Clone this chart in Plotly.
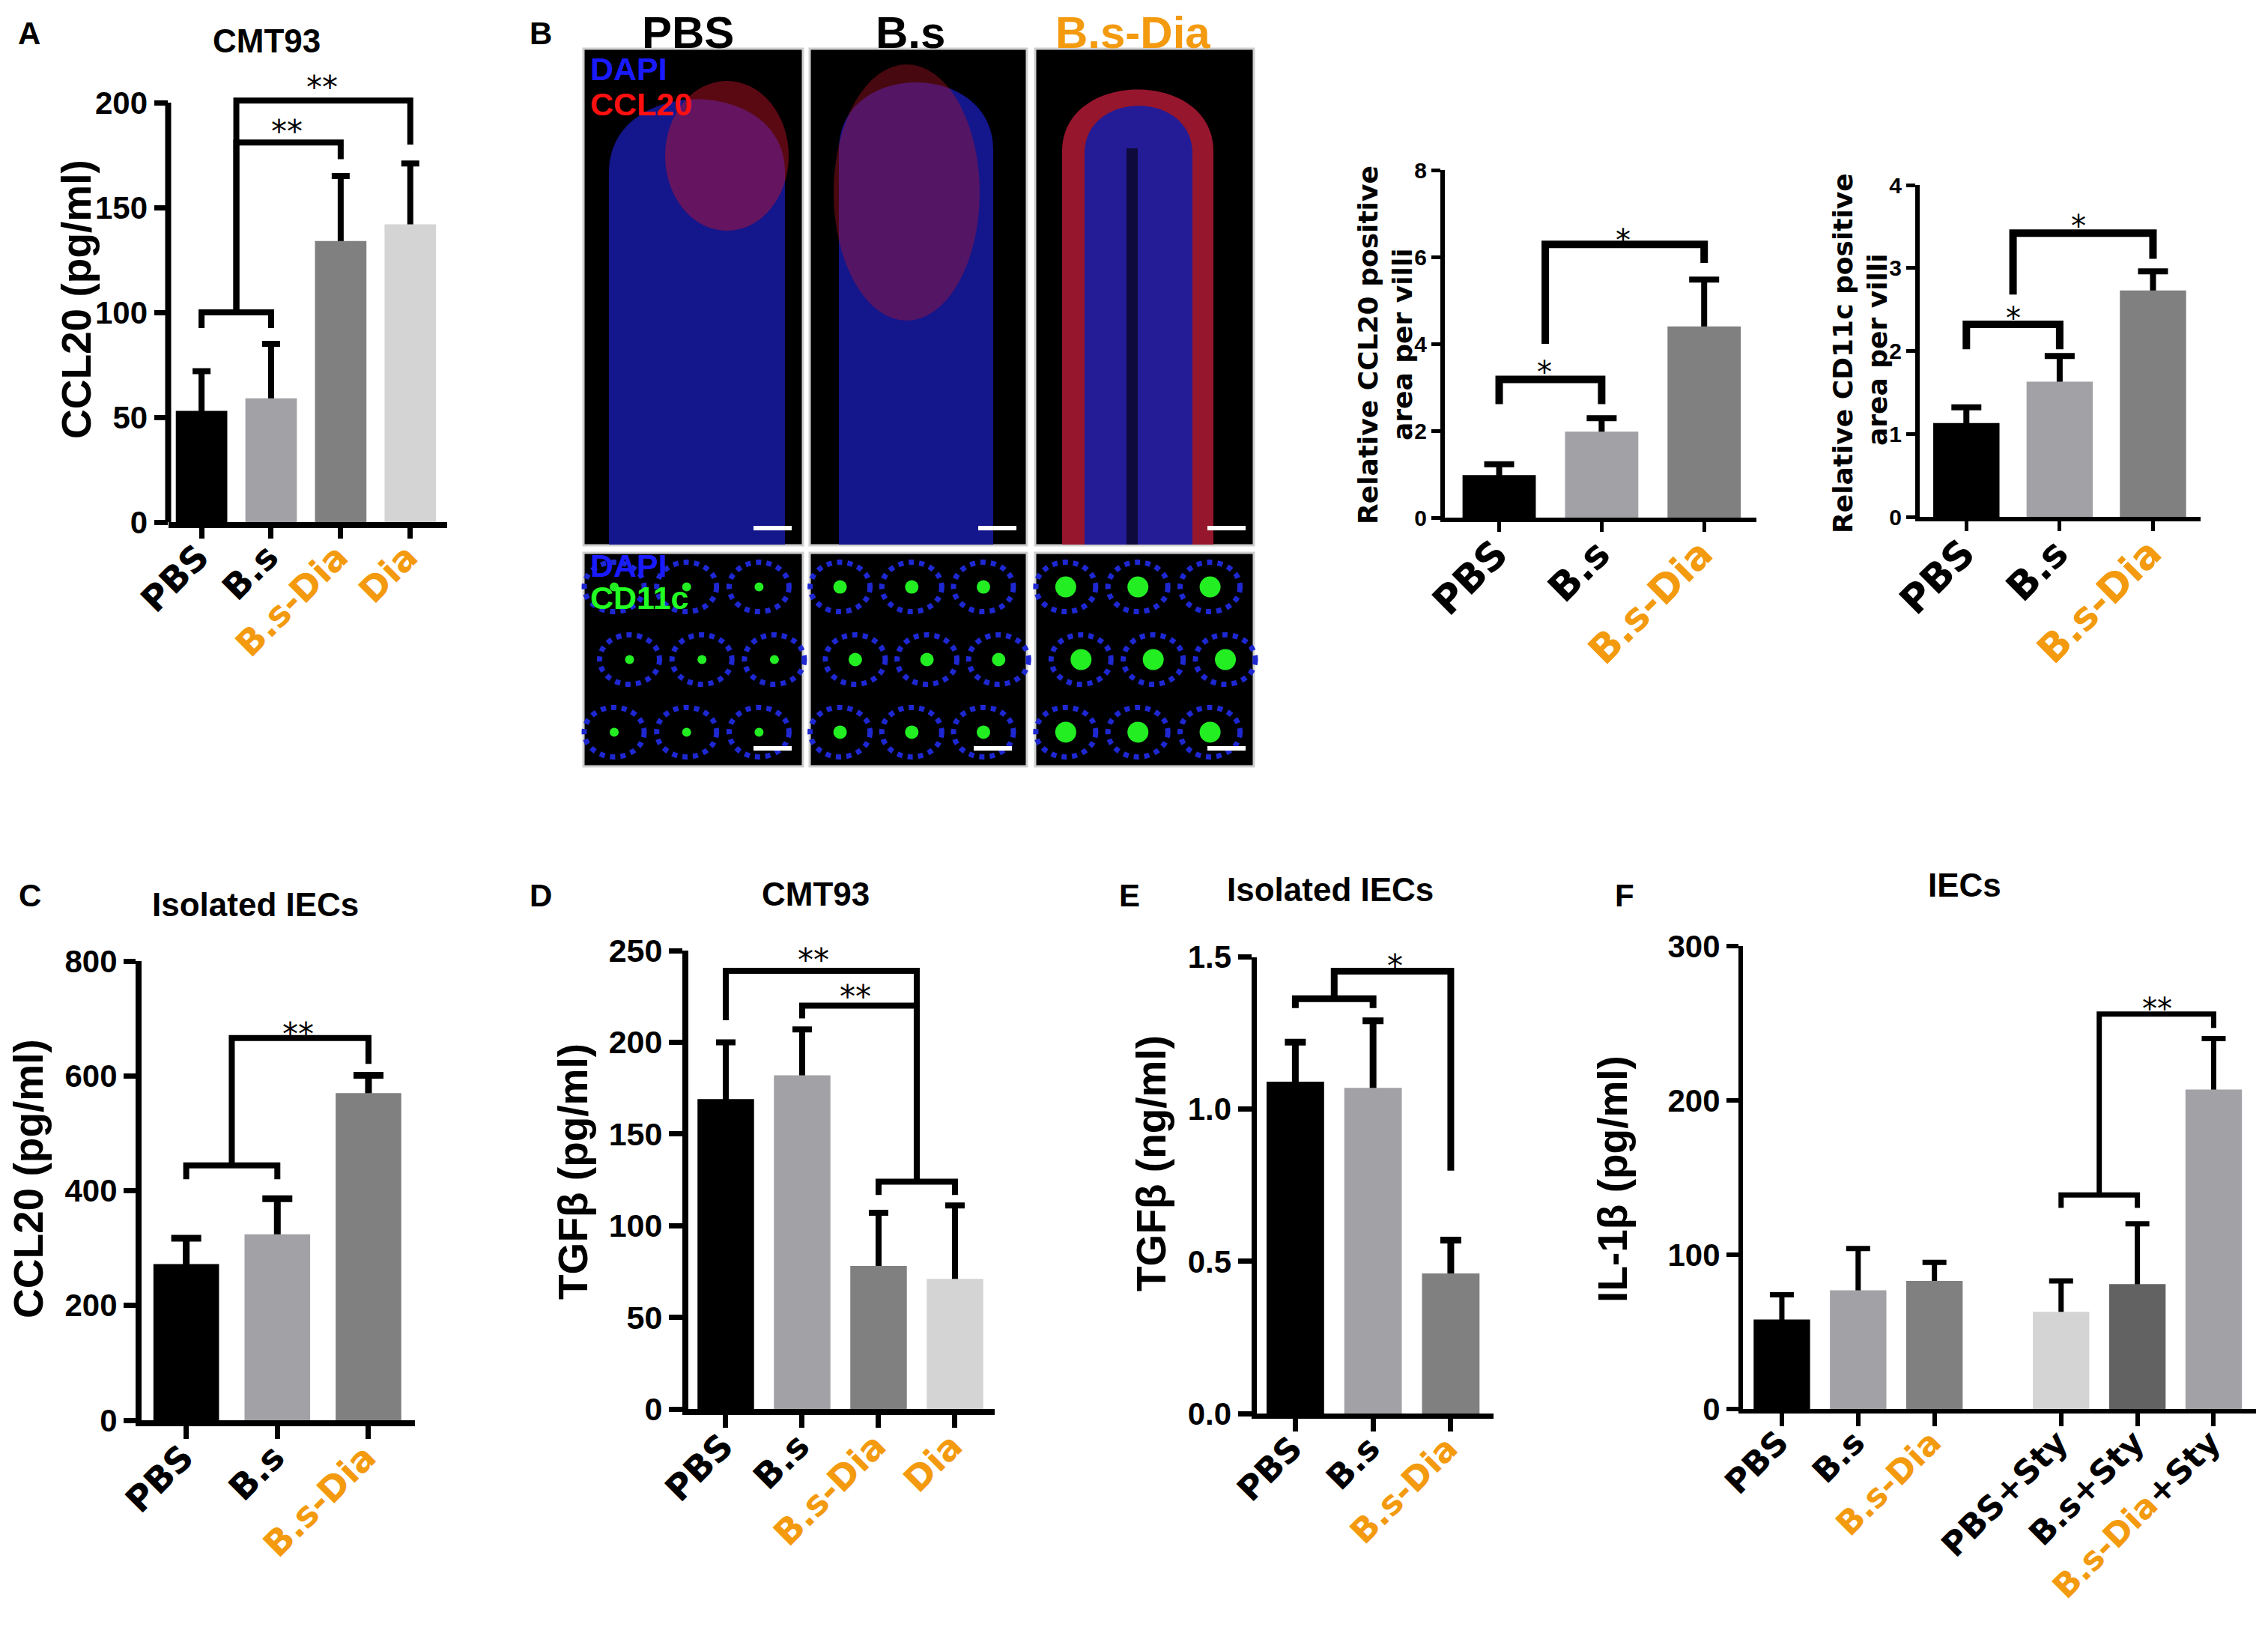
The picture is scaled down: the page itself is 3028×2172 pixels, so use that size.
import plotly.graph_objects as go

W, H = 3028, 2172
ORANGE = "#F39A0F"
BOLD = "Liberation Sans"
HEAVY = "DejaVu Sans"

# ---------------- values ----------------
# A: CCL20 secreted by CMT93 cells
a_groups = ["PBS", "B.s", "B.s-Dia", "Dia"]
a_mean = [53, 59, 134, 142]
a_sem = [19, 26, 31, 29]
# brackets: (left, right, height, left leg end, right leg end)
a_brackets = [(0, 1, 100, 92.5, 92.5), (0.5, 2, 181, 100, 173), (0.5, 3, 201, 100, 180)]
a_stars = [(1.23, 190, "**"), (1.73, 211, "**")]

# B: relative positive area per villus
b_groups = ["PBS", "B.s", "B.s-Dia"]
b1_mean = [0.98, 1.98, 4.40]
b1_sem = [0.25, 0.31, 1.08]
b1_brackets = [(0, 1, 3.18, 2.61, 2.61), (0.45, 2, 6.29, 4.0, 5.86)]
b1_stars = [(0.44, 3.52, "*"), (1.21, 6.55, "*")]
b2_mean = [1.13, 1.63, 2.73]
b2_sem = [0.19, 0.31, 0.23]
b2_brackets = [(0, 1, 2.32, 2.02, 2.02), (0.5, 2, 3.42, 2.68, 3.11)]
b2_stars = [(0.5, 2.48, "*"), (1.2, 3.59, "*")]

# C: CCL20, isolated IECs
c_groups = ["PBS", "B.s", "B.s-Dia"]
c_mean = [272, 324, 570]
c_sem = [45, 62, 31]
c_brackets = [(0, 1, 444, 420, 420), (0.5, 2, 666, 444, 621)]
c_stars = [(1.23, 686, "**")]

# D: TGFb, CMT93
d_groups = ["PBS", "B.s", "B.s-Dia", "Dia"]
d_mean = [169, 182, 78, 71]
d_sem = [31, 25, 29, 40]
d_brackets = [(2, 3, 124, 116.7, 116.7), (0, 2.5, 239, 212, 124), (1, 2.5, 220, 213, 124)]
d_stars = [(1.15, 249, "**"), (1.7, 229, "**")]

# E: TGFb, isolated IECs
e_groups = ["PBS", "B.s", "B.s-Dia"]
e_mean = [1.09, 1.07, 0.46]
e_sem = [0.13, 0.22, 0.11]
e_brackets = [(0, 1, 1.363, 1.332, 1.332), (0.5, 2, 1.453, 1.363, 0.798)]
e_stars = [(1.28, 1.497, "*")]

# F: IL-1b, IECs
f_groups = ["PBS", "B.s", "B.s-Dia", "PBS+Sty", "B.s+Sty", "B.s-Dia+Sty"]
f_mean = [58, 77, 83, 63, 81, 207]
f_sem = [16, 27, 12, 20, 39, 33]
f_brackets = [(3, 4, 138.7, 130.4, 130.4), (3.5, 5, 256, 138.7, 247)]
f_stars = [(4.26, 264, "**")]

BAR_COLORS = {"PBS": "#000000", "B.s": "#a2a2a6", "B.s-Dia": "#808080", "Dia": "#d4d4d4",
              "PBS+Sty": "#d4d4d4", "B.s+Sty": "#626262", "B.s-Dia+Sty": "#a2a2a6"}

F_GAP = 0.66  # Prism leaves a gap between the two groups of F

fig = go.Figure()
shapes, annotations, axes = [], [], {}


def px(x, y):
    return x / W, 1 - y / H


def label_html(g):
    if "B.s-Dia" in g:
        return g.replace("B.s-Dia", f"<span style='color:{ORANGE}'>B.s-Dia</span>")
    if g == "Dia":
        return f"<span style='color:{ORANGE}'>Dia</span>"
    return g


def text(x, y, s, size, family=BOLD, color="black", angle=0, xanchor="center", bold=True):
    fx, fy = px(x, y)
    annotations.append(dict(x=fx, y=fy, xref="paper", yref="paper", text=s, showarrow=False,
                            textangle=angle, xanchor=xanchor, yanchor="middle",
                            font=dict(family=family, size=size, color=color,
                                      weight="bold" if bold else "normal")))


def draw_panel(p):
    n = p["n"]
    xid, yid = ("x", "y") if n == 1 else (f"x{n}", f"y{n}")
    xkey, ykey = ("xaxis", "yaxis") if n == 1 else (f"xaxis{n}", f"yaxis{n}")
    place = p.get("place", lambda v: v)
    pos = [place(i) for i in range(len(p["groups"]))]
    xl, xr, y0, yref_px, yref_val = p["box"]
    ppu = (y0 - yref_px) / yref_val
    ytop = p["ytop"]

    # transparent bars carry the error bars, real bars drawn over them hide the lower half
    fig.add_trace(go.Bar(x=pos, y=p["mean"], width=p["bw"],
                         marker=dict(color="rgba(0,0,0,0)", line_width=0),
                         error_y=dict(type="data", array=p["sem"], color="black",
                                      thickness=p["ew"], width=p["cap"]),
                         xaxis=xid, yaxis=yid, showlegend=False, hoverinfo="skip"))
    fig.add_trace(go.Bar(x=pos, y=p["mean"], width=p["bw"],
                         marker=dict(color=[BAR_COLORS[g] for g in p["groups"]], line_width=0),
                         xaxis=xid, yaxis=yid, showlegend=False))

    axes[xkey] = dict(domain=[xl / W, xr / W], anchor=yid, range=list(p["xr"]),
                      tickmode="array", tickvals=pos, ticktext=[label_html(g) for g in p["groups"]],
                      tickangle=-45, ticks="outside", ticklen=p["xtl"], tickwidth=p["tw"],
                      tickcolor="black", showline=True, linewidth=p["lw"], linecolor="black",
                      showgrid=False, zeroline=False, automargin=False, fixedrange=True,
                      ticklabelstandoff=-22, ticklabelshift=-4,
                      tickfont=dict(family=HEAVY, size=p["xfs"], color="black", weight="bold"))
    short_axis = ytop > p["yticks"][-1]
    axes[ykey] = dict(domain=[1 - y0 / H, 1 - (y0 - ytop * ppu) / H], anchor=xid, range=[0, ytop],
                      tickmode="array", tickvals=p["yticks"], ticks="outside", ticklen=p["ytl"],
                      tickwidth=p["tw"], tickcolor="black", showline=not short_axis,
                      linewidth=p["lw"], linecolor="black", showgrid=False, zeroline=False,
                      automargin=False, fixedrange=True, tickformat=p.get("fmt", ""),
                      tickfont=dict(family=BOLD, size=p["yfs"], color="black", weight="bold"))
    if short_axis:
        # axis line stops at the last tick while the brackets sit above it
        shapes.append(dict(type="line", xref=f"{xid} domain", yref=yid, x0=0, x1=0,
                           y0=0, y1=p["yticks"][-1], line=dict(color="black", width=p["lw"])))

    for x1, x2, yb, e1, e2 in p["brackets"]:
        a, b = place(x1), place(x2)
        shapes.append(dict(type="path", xref=xid, yref=yid,
                           path=f"M{a},{e1} L{a},{yb} L{b},{yb} L{b},{e2}",
                           line=dict(color="black", width=p["blw"])))
    for sx, sy, s in p["stars"]:
        annotations.append(dict(x=place(sx), y=sy, xref=xid, yref=yid, text=s, showarrow=False,
                                xanchor="center", yanchor="middle", yshift=-0.25 * p["sfs"],
                                font=dict(family=HEAVY, size=p["sfs"], color="black")))


panels = [
    dict(n=1, groups=a_groups, mean=a_mean, sem=a_sem, brackets=a_brackets, stars=a_stars,
         box=(216.5, 589, 689, 129, 200), xr=(-0.48, 3.53), ytop=216, yticks=[0, 50, 100, 150, 200],
         bw=0.74, lw=8, tw=7, ew=8, cap=12, blw=8, ytl=18, xtl=14, yfs=42, xfs=47, sfs=42),
    dict(n=2, groups=b_groups, mean=b1_mean, sem=b1_sem, brackets=b1_brackets, stars=b1_stars,
         box=(1921, 2337, 683, 219, 8), xr=(-0.53, 2.51), ytop=8, yticks=[0, 2, 4, 6, 8],
         bw=0.715, lw=6, tw=5, ew=8, cap=20, blw=10, ytl=12, xtl=13, yfs=30, xfs=52, sfs=40),
    dict(n=3, groups=b_groups, mean=b2_mean, sem=b2_sem, brackets=b2_brackets, stars=b2_stars,
         box=(2555, 2930, 682, 239, 4), xr=(-0.5, 2.51), ytop=4, yticks=[0, 1, 2, 3, 4],
         bw=0.71, lw=6, tw=5, ew=8, cap=20, blw=10, ytl=12, xtl=13, yfs=30, xfs=52, sfs=40),
    dict(n=4, groups=c_groups, mean=c_mean, sem=c_sem, brackets=c_brackets, stars=c_stars,
         box=(181, 546, 1888, 1275, 800), xr=(-0.49, 2.51), ytop=800, yticks=[0, 200, 400, 600, 800],
         bw=0.72, lw=8, tw=7, ew=9, cap=20, blw=8, ytl=16, xtl=17, yfs=42, xfs=47, sfs=42),
    dict(n=5, groups=d_groups, mean=d_mean, sem=d_sem, brackets=d_brackets, stars=d_stars,
         box=(911, 1320, 1873, 1261, 250), xr=(-0.49, 3.52), ytop=250,
         yticks=[0, 50, 100, 150, 200, 250],
         bw=0.74, lw=8, tw=7, ew=8, cap=13, blw=8, ytl=18, xtl=17, yfs=43, xfs=47, sfs=42),
    dict(n=6, groups=e_groups, mean=e_mean, sem=e_sem, brackets=e_brackets, stars=e_stars,
         box=(1669.5, 1986, 1879, 1269.5, 1.5), xr=(-0.5, 2.55), ytop=1.5,
         yticks=[0, 0.5, 1.0, 1.5], fmt=".1f",
         bw=0.74, lw=7, tw=7, ew=9, cap=14, blw=9, ytl=18, xtl=17, yfs=42, xfs=45, sfs=42),
    dict(n=7, groups=f_groups, mean=f_mean, sem=f_sem, brackets=f_brackets, stars=f_stars,
         place=lambda v: v + F_GAP if v >= 2.5 else v,
         box=(2319, 3003.5, 1873, 1255, 300), xr=(-0.51, 6.21), ytop=300, yticks=[0, 100, 200, 300],
         bw=0.74, lw=6, tw=6, ew=7, cap=16, blw=7, ytl=16, xtl=17, yfs=42, xfs=44, sfs=40),
]
for p in panels:
    draw_panel(p)

# ---------------- panel letters, titles, axis titles ----------------
for s, x, y in [("A", 31, 37), ("B", 714, 37), ("C", 32, 1187), ("D", 714, 1187),
                ("E", 1500, 1187), ("F", 2161, 1187)]:
    text(x, y, s, 42)
for s, x, y in [("CMT93", 348, 46), ("Isolated IECs", 333, 1199), ("CMT93", 1081, 1185),
                ("Isolated IECs", 1768, 1179), ("IECs", 2615, 1173)]:
    text(x, y, s, 44)

text(94, 392, "CCL20 (pg/ml)", 55, angle=-90)
text(30, 1566, "CCL20 (pg/ml)", 55, angle=-90)
text(757, 1556, "TGFβ (pg/ml)", 55, angle=-90)
text(1529, 1545, "TGFβ (ng/ml)", 55, angle=-90)
text(2145, 1566, "IL-1β (pg/ml)", 55, angle=-90)
text(1818, 452, "Relative CCL20 positive", 36, family=HEAVY, angle=-90)
text(1864, 452, "area per villi", 36, family=HEAVY, angle=-90)
text(2452, 464, "Relative CD11c positive", 36, family=HEAVY, angle=-90)
text(2498, 459, "area per villi", 36, family=HEAVY, angle=-90)

# ---------------- B: confocal images (schematic) ----------------
img_cols = [(771, 1064), (1073, 1363), (1374, 1666)]
top_row, bottom_row = (57, 720), (730, 1015)
for (cx, label, col) in [(910, "PBS", "black"), (1207, "B.s", "black"), (1504, "B.s-Dia", ORANGE)]:
    text(cx, 36, label, 60, color=col)


def rect(x0, y0, x1, y1, fill, line=None, lw=0):
    a, b = px(x0, y1)
    c, d = px(x1, y0)
    shapes.append(dict(type="rect", xref="paper", yref="paper", x0=a, y0=b, x1=c, y1=d,
                       fillcolor=fill, line=dict(color=line or fill, width=lw), layer="above"))


def oval(x0, y0, x1, y1, fill="rgba(0,0,0,0)", line="rgba(0,0,0,0)", lw=0, dash="solid"):
    a, b = px(x0, y1)
    c, d = px(x1, y0)
    shapes.append(dict(type="circle", xref="paper", yref="paper", x0=a, y0=b, x1=c, y1=d,
                       fillcolor=fill, line=dict(color=line, width=lw, dash=dash)))


def dome(L, R, T, B, d, fill):
    l, b = px(L, B)
    r, t = px(R, T)
    _, td = px(L, T + d)
    shapes.append(dict(type="path", xref="paper", yref="paper",
                       path=f"M{l},{b} L{l},{td} C{l},{t} {r},{t} {r},{td} L{r},{b} Z",
                       fillcolor=fill, line=dict(width=0)))


for x0, x1 in img_cols:
    rect(x0, top_row[0], x1, top_row[1], "black", "#cfcfcf", 3)
    rect(x0, bottom_row[0], x1, bottom_row[1], "black", "#cfcfcf", 3)

# villi (DAPI blue, CCL20 red)
dome(805, 1040, 92, 719, 130, "rgb(20,22,140)")
oval(880, 100, 1045, 300, fill="rgba(200,20,40,0.45)")
dome(1112, 1318, 72, 719, 120, "rgb(20,22,140)")
oval(1105, 78, 1300, 420, fill="rgba(190,20,40,0.38)")
dome(1410, 1612, 84, 719, 110, "rgb(150,22,45)")
dome(1440, 1584, 112, 719, 85, "rgb(36,28,150)")
rect(1496, 190, 1511, 719, "rgb(15,10,60)")

# crypts (DAPI rings, CD11c green cores)
green_r = [6, 9, 14]
for k, (x0, x1) in enumerate(img_cols):
    w, h = x1 - x0, bottom_row[1] - bottom_row[0]
    for r, fy in enumerate([0.16, 0.5, 0.84]):
        for fx in [0.17, 0.5, 0.83]:
            cx = x0 + w * (fx + (0.04 if r % 2 else -0.03))
            cy = bottom_row[0] + h * fy
            oval(cx - 40, cy - 33, cx + 40, cy + 33, line="rgb(30,40,210)", lw=7, dash="dot")
            g = green_r[k]
            oval(cx - g, cy - g, cx + g, cy + g, fill="#22ee22")

# scale bars
for x0, x1 in [(998, 1049), (1298, 1349), (1604, 1655)]:
    rect(x0, 694, x1, 700, "white")
for x0, x1 in [(998, 1049), (1292, 1343), (1604, 1655)]:
    rect(x0, 988, x1, 994, "white")

text(778, 84, "DAPI", 43, color="#1a1aff", xanchor="left")
text(778, 131, "CCL20", 43, color="#ff1010", xanchor="left")
text(778, 747, "DAPI", 43, color="#1a1aff", xanchor="left")
text(778, 790, "CD11c", 43, color="#22ff22", xanchor="left")

fig.update_layout(width=W, height=H, margin=dict(l=0, r=0, t=0, b=0), template="none",
                  paper_bgcolor="white", plot_bgcolor="rgba(0,0,0,0)", barmode="overlay",
                  showlegend=False, font=dict(family=BOLD, color="black"),
                  shapes=shapes, annotations=annotations, **axes)

fig.write_html("out.html")
